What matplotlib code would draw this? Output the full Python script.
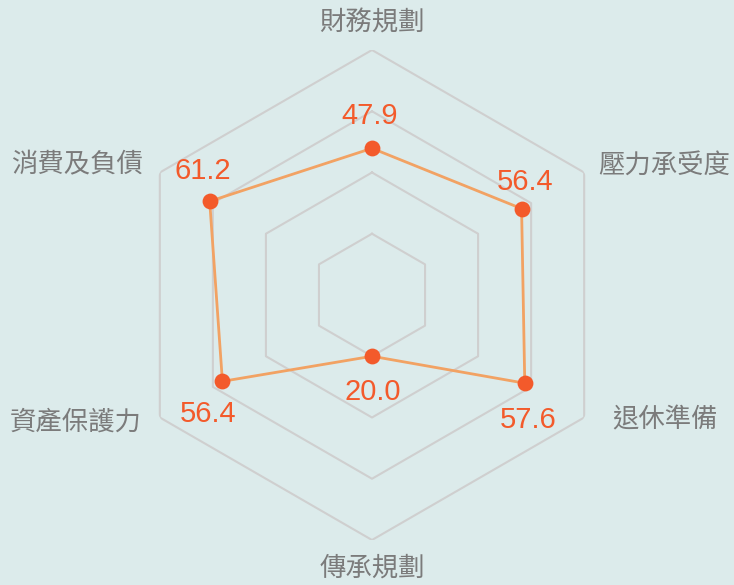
import numpy as np
import matplotlib.pyplot as plt

plt.rcParams['font.family'] = ['Liberation Sans', 'Noto Sans CJK TC', 'DejaVu Sans']

categories = ['財務規劃', '壓力承受度', '退休準備', '傳承規劃', '資產保護力', '消費及負債']
values = [47.9, 56.4, 57.6, 20.0, 56.4, 61.2]
rings = [20, 40, 60, 80]
r_max = 80

bg = '#dcebeb'
grid_color = '#cfcfcf'
line_color = '#f2a263'
dot_color = '#f35a2b'
label_color = '#7b7b7b'

n = len(categories)
angles = np.arange(n) * 2 * np.pi / n

fig = plt.figure(figsize=(7.34, 5.85), dpi=100, facecolor=bg)
ax = fig.add_axes([127/734, 45/585, 490/734, 490/585], projection='polar')
ax.set_facecolor('none')
ax.set_theta_zero_location('N')
ax.set_theta_direction(-1)
ax.set_ylim(0, r_max)
ax.grid(False)
ax.spines['polar'].set_visible(False)
ax.set_xticks([])
ax.set_yticks([])

# hexagonal grid
closed = np.append(angles, angles[0])
for r in rings:
    ax.plot(closed, [r] * (n + 1), color=grid_color, lw=1.5, zorder=1)

# series
vals = values + values[:1]
ax.plot(closed, vals, color=line_color, lw=2, zorder=3)
ax.scatter(angles, values, s=130, color=dot_color, zorder=4, linewidths=0)

# value labels
offsets = [(-2, 32), (4, 27), (3, -37), (1, -36), (-14, -33), (-7, 30)]
for a, v, off in zip(angles, values, offsets):
    ax.annotate(f'{v:.1f}', (a, v), xytext=off, textcoords='offset pixels',
                ha='center', va='center', fontsize=21, color=dot_color, zorder=5)

# category labels (theta deg, r, ha)
label_pos = [(0, 88.8, 'center'), (60.1, 85.1, 'left'), (117.5, 88.4, 'left'),
             (180, 89.1, 'center'), (241.1, 85.8, 'right'), (299.6, 86.0, 'right')]
for name, (t, r, ha) in zip(categories, label_pos):
    ax.text(np.deg2rad(t), r, name, ha=ha, va='center', fontsize=19,
            color=label_color, family=['Noto Sans CJK TC', 'DejaVu Sans'])

fig.savefig('out.png', dpi=100, facecolor=bg)
